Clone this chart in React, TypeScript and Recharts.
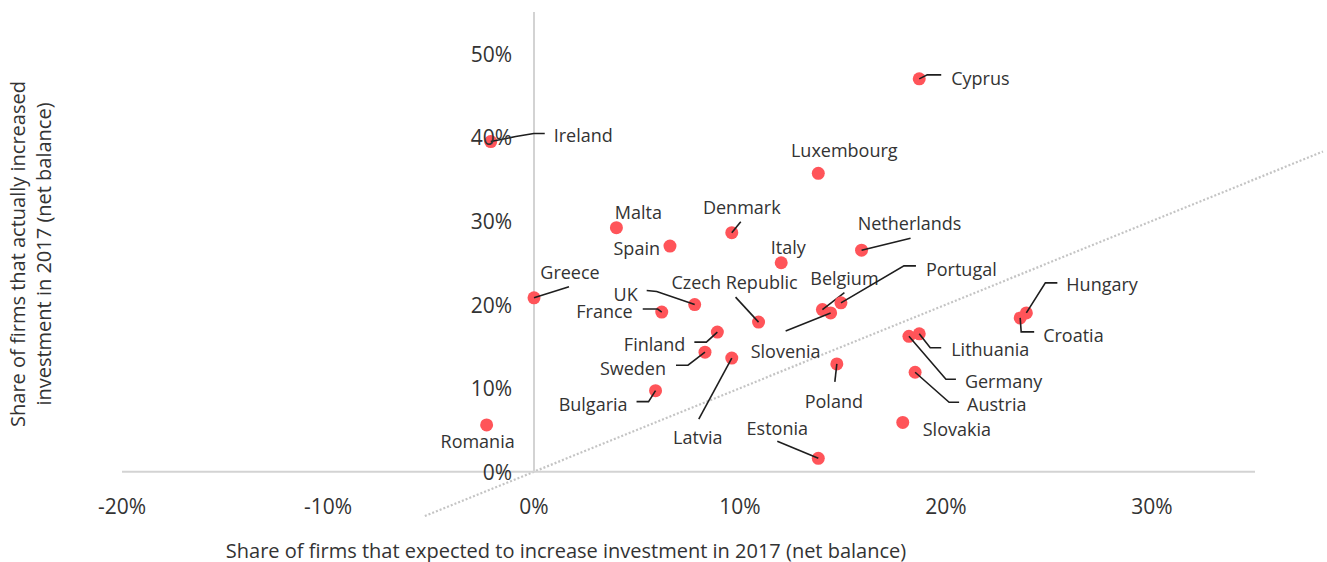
import { ReferenceLine, Scatter, ScatterChart, XAxis, YAxis } from "recharts";

// net balance, % of firms
const countries = [
  "Cyprus", "Ireland", "Luxembourg", "Malta", "Denmark", "Spain", "Netherlands",
  "Italy", "Greece", "UK", "France", "Czech Republic", "Belgium", "Slovenia",
  "Portugal", "Finland", "Sweden", "Latvia", "Bulgaria", "Romania", "Poland",
  "Estonia", "Lithuania", "Germany", "Austria", "Slovakia", "Hungary", "Croatia",
];
const expectedIncrease = [
  18.7, -2.1, 13.8, 4.0, 9.6, 6.6, 15.9,
  12.0, 0.0, 7.8, 6.2, 10.9, 14.0, 14.4,
  14.9, 8.9, 8.3, 9.6, 5.9, -2.3, 14.7,
  13.8, 18.7, 18.2, 18.5, 17.9, 23.9, 23.6,
];
const actualIncrease = [
  47.0, 39.5, 35.7, 29.2, 28.6, 27.0, 26.5,
  25.0, 20.8, 20.0, 19.1, 17.9, 19.4, 19.0,
  20.2, 16.7, 14.3, 13.6, 9.7, 5.6, 12.9,
  1.6, 16.5, 16.2, 11.9, 5.9, 19.0, 18.4,
];

const xTicks = [-20, -10, 0, 10, 20, 30];
const yTicks = [0, 10, 20, 30, 40, 50];

const data = countries.map((name, i) => ({ name, x: expectedIncrease[i], y: actualIncrease[i] }));

// label placement in px relative to the dot, leader polyline points relative to the dot
type LabelLayout = { dx: number; dy: number; anchor: "start" | "middle" | "end"; leader?: number[][] };
const labelLayout: Record<string, LabelLayout> = {
  Cyprus: { dx: 32, dy: -1, anchor: "start", leader: [[8, -4], [22, -4]] },
  Ireland: { dx: 63, dy: -7, anchor: "start", leader: [[25, -5], [43, -8], [54, -8]] },
  Luxembourg: { dx: 26, dy: -23, anchor: "middle" },
  Malta: { dx: 22, dy: -16, anchor: "middle" },
  Denmark: { dx: 10, dy: -26, anchor: "middle", leader: [[9, -11]] },
  Spain: { dx: -10, dy: 2, anchor: "end" },
  Netherlands: { dx: 48, dy: -27, anchor: "middle", leader: [[49, -12]] },
  Italy: { dx: 7, dy: -16, anchor: "middle" },
  Greece: { dx: 36, dy: -26, anchor: "middle", leader: [[35, -11]] },
  UK: { dx: -57, dy: -11, anchor: "end", leader: [[-38, -13], [-48, -14]] },
  France: { dx: -29, dy: -1, anchor: "end", leader: [[-4, -3], [-19, -3]] },
  "Czech Republic": { dx: -24, dy: -40, anchor: "middle", leader: [[-23, -25]] },
  Belgium: { dx: 22, dy: -32, anchor: "middle", leader: [[22, -17]] },
  Slovenia: { dx: -45, dy: 38, anchor: "middle", leader: [[-45, 18]] },
  Portugal: { dx: 85, dy: -34, anchor: "start", leader: [[63, -37], [75, -37]] },
  Finland: { dx: -32, dy: 12, anchor: "end", leader: [[-11, 10], [-23, 10]] },
  Sweden: { dx: -39, dy: 16, anchor: "end", leader: [[-17, 13], [-29, 13]] },
  Latvia: { dx: -34, dy: 79, anchor: "middle", leader: [[-33, 61]] },
  Bulgaria: { dx: -28, dy: 13, anchor: "end", leader: [[-7, 11], [-19, 11]] },
  Romania: { dx: -9, dy: 16, anchor: "middle" },
  Poland: { dx: -3, dy: 37, anchor: "middle", leader: [[-2, 18]] },
  Estonia: { dx: -41, dy: -30, anchor: "middle", leader: [[-41, -17]] },
  Lithuania: { dx: 32, dy: 15, anchor: "start", leader: [[11, 14], [22, 14]] },
  Germany: { dx: 56, dy: 45, anchor: "start", leader: [[37, 43], [47, 43]] },
  Austria: { dx: 52, dy: 32, anchor: "start", leader: [[34, 30], [44, 30]] },
  Slovakia: { dx: 20, dy: 7, anchor: "start" },
  Hungary: { dx: 40, dy: -29, anchor: "start", leader: [[19, -30], [31, -30]] },
  Croatia: { dx: 23, dy: 17, anchor: "start", leader: [[1, 14], [14, 14]] },
};

const W = 1327;
const H = 562;
const X_DOMAIN: [number, number] = [-20, 38.3];
const Y_DOMAIN: [number, number] = [-5.3, 55];
const MARGIN = { top: 12, right: 4, bottom: 45, left: 121 };
const PLOT_LEFT = MARGIN.left + 1;
const PLOT_W = W - PLOT_LEFT - MARGIN.right;
const PLOT_H = H - MARGIN.top - MARGIN.bottom - 1;
const ZERO_X = PLOT_LEFT + ((0 - X_DOMAIN[0]) / (X_DOMAIN[1] - X_DOMAIN[0])) * PLOT_W;
const ZERO_Y = MARGIN.top + ((Y_DOMAIN[1] - 0) / (Y_DOMAIN[1] - Y_DOMAIN[0])) * PLOT_H;

const FONT = "'Open Sans', 'Noto Sans', sans-serif";
const TEXT = "#333333";
const AXIS = "#d3d3d3";
const DOT = "#ff5459";

const renderXTick = (props: any) => (
  <text
    x={props.x}
    y={ZERO_Y + 34}
    textAnchor="middle"
    dominantBaseline="central"
    fontSize={21}
    fill={TEXT}
    fontFamily={FONT}
  >
    {`${props.payload.value}%`}
  </text>
);

const renderYTick = (props: any) => (
  <text
    x={ZERO_X - 22}
    y={props.y}
    textAnchor="end"
    dominantBaseline="central"
    fontSize={21}
    fill={TEXT}
    fontFamily={FONT}
  >
    {`${props.payload.value}%`}
  </text>
);

function CountryDot(props: any) {
  const { cx, cy, payload } = props;
  const l = labelLayout[payload.name];
  const pts = l.leader ? [[0, 0], ...l.leader].map(([a, b]) => `${cx + a},${cy + b}`).join(" ") : null;
  return (
    <g>
      <circle cx={cx} cy={cy} r={6.5} fill={DOT} />
      {pts && <polyline points={pts} fill="none" stroke="#1e1e1e" strokeWidth={1.6} />}
      <text
        x={cx + l.dx}
        y={cy + l.dy}
        textAnchor={l.anchor}
        dominantBaseline="central"
        fontSize={18}
        fill={TEXT}
        fontFamily={FONT}
      >
        {payload.name}
      </text>
    </g>
  );
}

export default function App() {
  return (
    <div style={{ position: "absolute", left: 0, top: 0, width: W, height: H, background: "#fff", fontFamily: FONT }}>
      <ScatterChart width={W} height={H} margin={MARGIN}>
        <XAxis
          type="number"
          dataKey="x"
          domain={X_DOMAIN}
          ticks={xTicks}
          height={1}
          axisLine={false}
          tickLine={false}
          tick={renderXTick}
          interval={0}
          allowDataOverflow
        />
        <YAxis
          type="number"
          dataKey="y"
          domain={Y_DOMAIN}
          ticks={yTicks}
          width={1}
          axisLine={false}
          tickLine={false}
          tick={renderYTick}
          interval={0}
          allowDataOverflow
        />
        <ReferenceLine
          segment={[{ x: -5.3, y: -5.3 }, { x: 38.3, y: 38.3 }]}
          stroke="#c4c4c4"
          strokeWidth={2.2}
          strokeDasharray="2 2"
          ifOverflow="visible"
        />
        <ReferenceLine segment={[{ x: -20, y: 0 }, { x: 35, y: 0 }]} stroke={AXIS} strokeWidth={2} />
        <ReferenceLine segment={[{ x: 0, y: 0 }, { x: 0, y: 55 }]} stroke={AXIS} strokeWidth={2} />
        <Scatter data={data} shape={<CountryDot />} isAnimationActive={false} />
      </ScatterChart>
      <div
        style={{
          position: "absolute",
          left: 566,
          top: 550,
          transform: "translate(-50%, -50%)",
          whiteSpace: "nowrap",
          fontSize: 20,
          color: TEXT,
        }}
      >
        Share of firms that expected to increase investment in 2017 (net balance)
      </div>
      <div
        style={{
          position: "absolute",
          left: 31,
          top: 254,
          transform: "translate(-50%, -50%) rotate(-90deg)",
          whiteSpace: "nowrap",
          textAlign: "center",
          fontSize: 20,
          lineHeight: "26px",
          color: TEXT,
        }}
      >
        Share of firms that actually increased
        <br />
        investment in 2017 (net balance)
      </div>
    </div>
  );
}
